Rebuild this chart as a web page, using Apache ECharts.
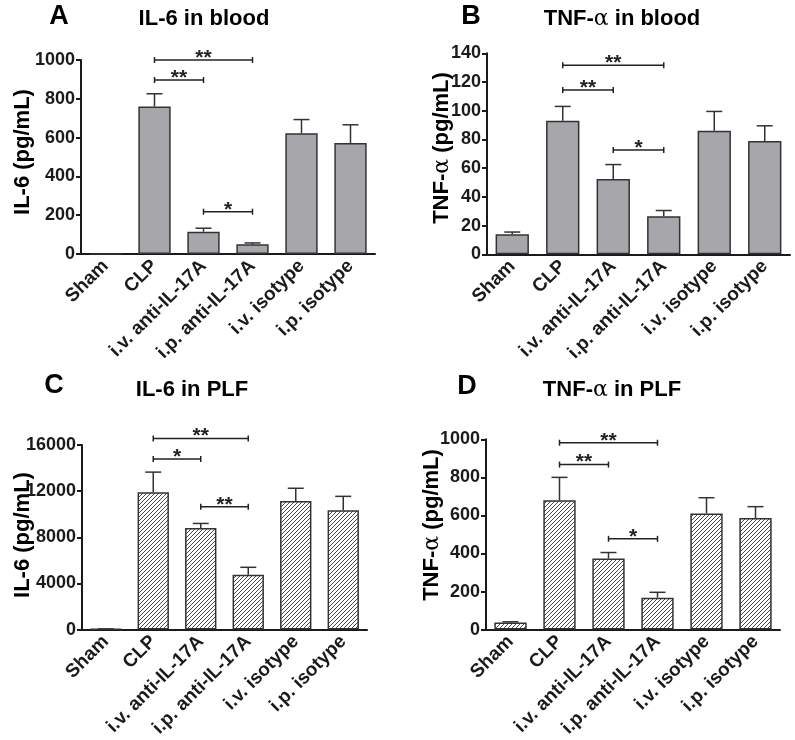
<!DOCTYPE html>
<html><head><meta charset="utf-8">
<script src="https://cdn.jsdelivr.net/npm/echarts@6/dist/echarts.min.js"></script>
<style>html,body{margin:0;padding:0;background:#fff}#c{width:795px;height:740px}</style>
</head><body><div id="c"></div>
<script>
const categories = ['Sham','CLP','i.v. anti-IL-17A','i.p. anti-IL-17A','i.v. isotype','i.p. isotype'];

const il6Blood    = [0, 760, 115, 50, 622, 572];
const il6BloodSem = [0, 66, 18, 7, 71, 94];
const tnfBlood    = [14, 93, 52.5, 26.5, 86, 79];
const tnfBloodSem = [1.5, 10, 10, 4, 13.5, 10.5];
const il6Plf      = [50, 11900, 8800, 4750, 11150, 10350];
const il6PlfSem   = [10, 1750, 400, 650, 1100, 1200];
const tnfPlf      = [37, 680, 373, 168, 610, 586];
const tnfPlfSem   = [4, 120, 32, 28, 83, 60];

// [from category, to category, height, label]
const il6BloodSig = [[1,3,1000,'**'],[1,2,897,'**'],[2,3,218,'*']];
const tnfBloodSig = [[1,3,131.6,'**'],[1,2,114.4,'**'],[2,3,72.6,'*']];
const il6PlfSig   = [[1,3,16570,'**'],[1,2,14780,'*'],[2,3,10640,'**']];
const tnfPlfSig   = [[1,3,982,'**'],[1,2,867,'**'],[2,3,477,'*']];

const yTicksA = {max:1000, interval:200};
const yTicksB = {max:140, interval:20};
const yTicksC = {max:16000, interval:4000};
const yTicksD = {max:1000, interval:200};

const FONT = '"Liberation Sans", Arial, Helvetica, sans-serif';
const INK = '#1a1a1a';

function hatch(){
  const s = 4;
  const c = document.createElement('canvas'); c.width = s; c.height = s;
  const g = c.getContext('2d');
  g.fillStyle = '#fff'; g.fillRect(0,0,s,s);
  g.strokeStyle = '#4a4a4a'; g.lineWidth = 1;
  g.beginPath();
  g.moveTo(-1, s+1); g.lineTo(s+1, -1);
  g.moveTo(-1, 1); g.lineTo(1, -1);
  g.moveTo(s-1, s+1); g.lineTo(s+1, s-1);
  g.stroke();
  return c;
}
const hatchFill = {image: hatch(), repeat: 'repeat'};
const grayFill = '#a6a6ab';

const grids = [
  {left:81, top:60, width:294, height:194},
  {left:487, top:53.3, width:303, height:201},
  {left:82, top:445, width:285, height:187.3},
  {left:486, top:439.3, width:294, height:194}
];
const panels = [
  {vals:il6Blood, sem:il6BloodSem, sig:il6BloodSig, ticks:yTicksA, fill:grayFill},
  {vals:tnfBlood, sem:tnfBloodSem, sig:tnfBloodSig, ticks:yTicksB, fill:grayFill},
  {vals:il6Plf, sem:il6PlfSem, sig:il6PlfSig, ticks:yTicksC, fill:hatchFill},
  {vals:tnfPlf, sem:tnfPlfSem, sig:tnfPlfSig, ticks:yTicksD, fill:hatchFill}
];

const xAxis = [], yAxis = [], series = [];
panels.forEach((p, k) => {
  xAxis.push({
    type:'category', gridIndex:k, data:categories, boundaryGap:true,
    axisLine:{lineStyle:{color:INK, width:2}},
    axisTick:{alignWithLabel:true, length:4, lineStyle:{color:INK, width:1.5}},
    axisLabel:{interval:0, rotate:45, margin:9, fontFamily:FONT, fontWeight:'bold', fontSize:19, color:INK}
  });
  yAxis.push({
    type:'value', gridIndex:k, min:0, max:p.ticks.max, interval:p.ticks.interval,
    axisLine:{show:true, lineStyle:{color:INK, width:2}},
    axisTick:{show:true, length:5, lineStyle:{color:INK, width:2}},
    splitLine:{show:false},
    axisLabel:{margin:6, fontFamily:FONT, fontWeight:'bold', fontSize:18, color:INK,
      formatter: v => String(v)}
  });
  series.push({
    type:'bar', xAxisIndex:k, yAxisIndex:k, data:p.vals, barCategoryGap:'34%',
    itemStyle:{color:p.fill, borderColor:'#333', borderWidth:1.5},
    silent:true, animation:false, z:2
  });
  series.push({
    type:'custom', xAxisIndex:k, yAxisIndex:k, z:3, animation:false, silent:true,
    data: p.vals.map((v,i)=>[i, v, p.sem[i]]),
    encode:{x:0, y:1},
    renderItem(params, api){
      const i = api.value(0), v = api.value(1), e = api.value(2);
      if (!e) return;
      const a = api.coord([i, v]), b = api.coord([i, v + e]);
      const st = {stroke:'#333', lineWidth:1.5};
      return {type:'group', children:[
        {type:'line', shape:{x1:a[0], y1:a[1], x2:b[0], y2:b[1]}, style:st},
        {type:'line', shape:{x1:b[0]-8, y1:b[1], x2:b[0]+8, y2:b[1]}, style:st}
      ]};
    }
  });
  series.push({
    type:'custom', xAxisIndex:k, yAxisIndex:k, z:4, clip:false, animation:false, silent:true,
    data: p.sig.map(s => [s[0], s[1], s[2], s[3]]),
    encode:{x:[0,1], y:2},
    renderItem(params, api){
      const a = api.coord([api.value(0), api.value(2)]);
      const b = api.coord([api.value(1), api.value(2)]);
      const lbl = p.sig[params.dataIndex][3];
      const st = {stroke:'#222', lineWidth:1.5};
      return {type:'group', children:[
        {type:'line', shape:{x1:a[0], y1:a[1], x2:b[0], y2:b[1]}, style:st},
        {type:'line', shape:{x1:a[0], y1:a[1]-3, x2:a[0], y2:a[1]+3}, style:st},
        {type:'line', shape:{x1:b[0], y1:b[1]-3, x2:b[0], y2:b[1]+3}, style:st},
        {type:'text', style:{text:lbl, x:(a[0]+b[0])/2, y:a[1]-2, align:'center', verticalAlign:'middle',
          font:'bold 21px ' + FONT, fill:'#222'}}
      ]};
    }
  });
});

function txt(x, y, text, size, rot){
  return {type:'text', x:x, y:y, rotation:rot||0, silent:true,
    style:{text:text, align:'center', verticalAlign:'middle', fill:'#000',
      font:'bold ' + size + 'px ' + FONT,
      rich:{a:{fontFamily:'"DejaVu Serif", serif', fontWeight:'normal', fontSize:size, fill:'#000'}}}};
}
function rtxt(x, y, parts, size, rot){
  const e = txt(x, y, parts, size, rot);
  e.style.rich.b = {fontFamily:FONT, fontWeight:'bold', fontSize:size, fill:'#000'};
  return e;
}

const graphic = [
  txt(59, 16.5, 'A', 27), txt(204, 19, 'IL-6 in blood', 22),
  txt(471, 16.5, 'B', 27), rtxt(622, 19, '{b|TNF-}{a|α}{b| in blood}', 22),
  txt(54, 386, 'C', 27), txt(192, 390, 'IL-6 in PLF', 22),
  txt(467, 387, 'D', 27), rtxt(612, 390, '{b|TNF-}{a|α}{b| in PLF}', 22),
  txt(23, 152, 'IL-6 (pg/mL)', 22, Math.PI/2),
  rtxt(442, 148, '{b|TNF-}{a|α}{b| (pg/mL)}', 22, Math.PI/2),
  txt(23, 535, 'IL-6 (pg/mL)', 22, Math.PI/2),
  rtxt(432, 525, '{b|TNF-}{a|α}{b| (pg/mL)}', 22, Math.PI/2)
];

const chart = echarts.init(document.getElementById('c'), null, {renderer:'canvas'});
chart.setOption({animation:false, backgroundColor:'#fff', grid:grids, xAxis, yAxis, series, graphic});
</script></body></html>
